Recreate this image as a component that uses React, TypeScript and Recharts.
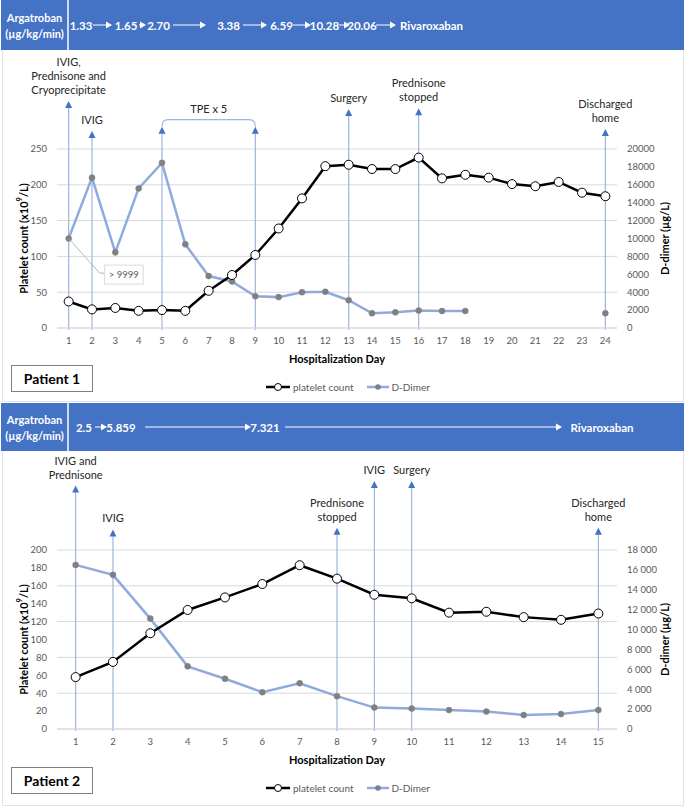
import { ComposedChart, Line, XAxis, YAxis, CartesianGrid, ReferenceLine, ReferenceDot } from 'recharts';

const FONT = 'Lato, "Open Sans", sans-serif';
const BLUE = '#4472C4';
const LIGHT_BLUE = '#8FAADC';
const ARROW_LINE = '#9DB5E0';
const TICK_GREY = '#595959';

// ---- Patient 1 ----
const days1 = [1, 2, 3, 4, 5, 6, 7, 8, 9, 10, 11, 12, 13, 14, 15, 16, 17, 18, 19, 20, 21, 22, 23, 24];
const platelet1 = [37, 26, 28, 24, 25, 24, 52, 74, 102, 139, 181, 226, 228, 222, 222, 238, 209, 214, 210, 201, 198, 204, 189, 184];
const dDimer1 = [10000, 16800, 8450, 15600, 18450, 9350, 5800, 5200, 3550, 3450, 4000, 4050, 3100, 1650, 1750, 1950, 1900, 1900, null, null, null, null, null, 1650];
const plateletTicks1 = [0, 50, 100, 150, 200, 250];
const dDimerTicks1 = [0, 2000, 4000, 6000, 8000, 10000, 12000, 14000, 16000, 18000, 20000];
const doses1 = ['1.33', '1.65', '2.70', '3.38', '6.59', '10.28', '20.06', 'Rivaroxaban'];

// ---- Patient 2 ----
const days2 = [1, 2, 3, 4, 5, 6, 7, 8, 9, 10, 11, 12, 13, 14, 15];
const platelet2 = [58, 75, 107, 133, 147, 162, 183, 168, 150, 146, 130, 131, 125, 122, 129];
const dDimer2 = [16500, 15500, 11100, 6300, 5050, 3700, 4600, 3300, 2150, 2050, 1900, 1750, 1400, 1500, 1900];
const plateletTicks2 = [0, 20, 40, 60, 80, 100, 120, 140, 160, 180, 200];
const dDimerTicks2 = [0, 2000, 4000, 6000, 8000, 10000, 12000, 14000, 16000, 18000];
const doses2 = ['2.5', '5.859', '7.321', 'Rivaroxaban'];

// clinical events (day, label lines); arrow tip height in platelet units
const events1 = [
  { day: 1, top: 317, lines: ['IVIG,', 'Prednisone and', 'Cryoprecipitate'] },
  { day: 2, top: 275, lines: ['IVIG'] },
  { day: 5, top: 281, lines: [] as string[] },
  { day: 9, top: 281, lines: [] as string[] },
  { day: 13, top: 306, lines: ['Surgery'] },
  { day: 16, top: 307, lines: ['Prednisone', 'stopped'] },
  { day: 24, top: 278, lines: ['Discharged', 'home'] },
];
const tpe1 = { from: 5, to: 9, level: 291, text: 'TPE x 5' };

const events2 = [
  { day: 1, top: 272, lines: ['IVIG and', 'Prednisone'] },
  { day: 2, top: 223, lines: ['IVIG'] },
  { day: 8, top: 225, lines: ['Prednisone', 'stopped'] },
  { day: 9, top: 277, lines: ['IVIG'] },
  { day: 10, top: 277, lines: ['Surgery'] },
  { day: 15, top: 225, lines: ['Discharged', 'home'] },
];

const data1 = days1.map((d, i) => ({ day: d, platelet: platelet1[i], dDimer: dDimer1[i] }));
const data2 = days2.map((d, i) => ({ day: d, platelet: platelet2[i], dDimer: dDimer2[i] }));

const spaceThousands = (v: number) => String(v).replace(/\B(?=(\d{3})+(?!\d))/g, ' ');

const makeArrow = (lines: string[]) => (p: any) => {
  const x = p.x1;
  const top = Math.min(p.y1, p.y2);
  const bottom = Math.max(p.y1, p.y2);
  return (
    <g>
      <line x1={x} y1={top + 5} x2={x} y2={bottom + 2} stroke={ARROW_LINE} strokeWidth={1.2} />
      <polygon points={`${x - 3.5},${top + 7} ${x + 3.5},${top + 7} ${x},${top}`} fill={BLUE} />
      {lines.map((t, i) => (
        <text
          key={i}
          x={x}
          y={top - 11.5 - (lines.length - 1 - i) * 14}
          textAnchor="middle"
          dominantBaseline="central"
          fontSize={11}
          fontFamily={FONT}
          fill="#262626"
        >
          {t}
        </text>
      ))}
    </g>
  );
};

const bracketShape = (text: string) => (p: any) => {
  const { x1, x2, y1 } = p;
  const d = `M${x1},${y1 + 7} Q${x1},${y1} ${x1 + 6},${y1} L${x2 - 6},${y1} Q${x2},${y1} ${x2},${y1 + 7}`;
  return (
    <g>
      <path d={d} fill="none" stroke={ARROW_LINE} strokeWidth={1.2} />
      <text x={(x1 + x2) / 2} y={y1 - 11.5} textAnchor="middle" dominantBaseline="central" fontSize={11} fontFamily={FONT} fill="#262626">
        {text}
      </text>
    </g>
  );
};

const Callout = (p: any) => {
  const { cx, cy } = p;
  return (
    <g>
      <polyline points={`${cx},${cy} ${cx + 31},${cy + 34.6} ${cx + 36},${cy + 34.6}`} fill="none" stroke="#a6a6a6" strokeWidth={0.8} />
      <rect x={cx + 36} y={cy + 26.6} width={38.5} height={19} fill="#fff" stroke="#d9d9d9" />
      <text x={cx + 55.2} y={cy + 36.1} textAnchor="middle" dominantBaseline="central" fontSize={9.5} fontFamily={FONT} fill={TICK_GREY}>
        {'> 9999'}
      </text>
    </g>
  );
};

const VerticalTitle = (p: any) => {
  const vb = p.viewBox;
  const cx = vb.x + p.shift;
  const cy = vb.y + vb.height / 2;
  return (
    <text
      x={cx}
      y={cy}
      transform={`rotate(-90 ${cx} ${cy})`}
      textAnchor="middle"
      dominantBaseline="central"
      fontSize={11}
      fontWeight="bold"
      fontFamily={FONT}
      fill="#000"
    >
      {p.title}
      {p.sup && (
        <tspan fontSize={7.5} dy={-4}>
          {p.sup}
        </tspan>
      )}
      {p.tail && <tspan dy={p.sup ? 4 : 0}>{p.tail}</tspan>}
    </text>
  );
};

const XTitle = (p: any) => {
  const vb = p.viewBox;
  return (
    <text
      x={vb.x + vb.width / 2}
      y={vb.y + 30}
      textAnchor="middle"
      dominantBaseline="central"
      fontSize={11}
      fontWeight="bold"
      fontFamily={FONT}
      fill="#000"
    >
      Hospitalization Day
    </text>
  );
};

const tickStyle = { fill: TICK_GREY, fontSize: 9.5, fontFamily: FONT };

function PatientChart({ data, days, pTicks, dTicks, dFormat, events, bracket, callout }: any) {
  const pMax = pTicks[pTicks.length - 1];
  const dMax = dTicks[dTicks.length - 1];
  const half = 559 / days.length / 2;
  return (
    <ComposedChart width={685} height={318} data={data} margin={{ top: 99, right: 0, bottom: 0, left: 0 }}>
      <CartesianGrid vertical={false} stroke="#d9d9d9" yAxisId="left" />
      <XAxis
        dataKey="day"
        interval={0}
        tickLine={false}
        axisLine={{ stroke: '#d9d9d9' }}
        padding={{ left: half, right: half }}
        height={40}
        tickMargin={3}
        tick={tickStyle}
        label={<XTitle />}
      />
      <YAxis
        yAxisId="left"
        width={57}
        domain={[0, pMax]}
        ticks={pTicks}
        axisLine={false}
        tickLine={false}
        tickMargin={4}
        tick={tickStyle}
        label={<VerticalTitle title="Platelet count (x10" sup="9" tail="/L)" shift={23} />}
      />
      <YAxis
        yAxisId="right"
        orientation="right"
        width={68}
        domain={[0, dMax]}
        ticks={dTicks}
        tickFormatter={dFormat}
        axisLine={false}
        tickLine={false}
        tickMargin={4}
        tick={tickStyle}
        label={<VerticalTitle title="D-dimer (µg/L)" shift={47} />}
      />
      {events.map((e: any) => (
        <ReferenceLine
          key={e.day}
          yAxisId="left"
          segment={[{ x: e.day, y: 0 }, { x: e.day, y: e.top }]}
          ifOverflow="visible"
          shape={makeArrow(e.lines)}
        />
      ))}
      {bracket && (
        <ReferenceLine
          yAxisId="left"
          segment={[{ x: bracket.from, y: bracket.level }, { x: bracket.to, y: bracket.level }]}
          ifOverflow="visible"
          shape={bracketShape(bracket.text)}
        />
      )}
      <Line
        yAxisId="right"
        dataKey="dDimer"
        stroke={LIGHT_BLUE}
        strokeWidth={2.5}
        dot={{ r: 3, fill: '#808080', stroke: '#808080', strokeWidth: 0.5 }}
        isAnimationActive={false}
      />
      <Line
        yAxisId="left"
        dataKey="platelet"
        stroke="#000"
        strokeWidth={2.5}
        dot={{ r: 4.5, fill: '#fff', stroke: '#000', strokeWidth: 1 }}
        isAnimationActive={false}
      />
      {callout && (
        <ReferenceDot yAxisId="right" x={callout.day} y={callout.value} r={0} ifOverflow="visible" shape={Callout} />
      )}
    </ComposedChart>
  );
}

function Legend({ top }: { top: number }) {
  return (
    <div style={{ position: 'absolute', top: top - 8, left: 265, height: 16, display: 'flex', alignItems: 'center', fontFamily: FONT, fontSize: 10, color: TICK_GREY }}>
      <svg width={26} height={16}>
        <line x1={1} y1={8} x2={25} y2={8} stroke="#000" strokeWidth={2.5} />
        <circle cx={13} cy={8} r={3.5} fill="#fff" stroke="#000" strokeWidth={1} />
      </svg>
      <span style={{ marginLeft: 2 }}>platelet count</span>
      <svg width={24} height={16} style={{ marginLeft: 12 }}>
        <line x1={1} y1={8} x2={23} y2={8} stroke={LIGHT_BLUE} strokeWidth={2.5} />
        <circle cx={12} cy={8} r={2.8} fill="#808080" />
      </svg>
      <span style={{ marginLeft: 2 }}>D-Dimer</span>
    </div>
  );
}

function DoseBand({ top, height, divider, labels, centers, arrows }: any) {
  const mid = height / 2;
  return (
    <div style={{ position: 'absolute', top, left: 1, width: 683, height, background: BLUE }}>
      <svg width={683} height={height} style={{ position: 'absolute', left: 0, top: 0 }}>
        <line x1={divider} y1={0} x2={divider} y2={height} stroke="#fff" strokeWidth={1.5} />
        <text x={divider / 2} y={mid - 8} textAnchor="middle" dominantBaseline="central" fontSize={11} fontWeight="bold" fontFamily={FONT} fill="#fff">
          Argatroban
        </text>
        <text x={divider / 2} y={mid + 8} textAnchor="middle" dominantBaseline="central" fontSize={11} fontWeight="bold" fontFamily={FONT} fill="#fff">
          (µg/kg/min)
        </text>
        {arrows.map((a: number[], i: number) => (
          <g key={i}>
            <line x1={a[0]} y1={mid} x2={a[1] - 4} y2={mid} stroke="#fff" strokeWidth={1} />
            <polygon points={`${a[1] - 6},${mid - 3.5} ${a[1] - 6},${mid + 3.5} ${a[1]},${mid}`} fill="#fff" />
          </g>
        ))}
        {labels.map((l: string, i: number) => (
          <text key={l} x={centers[i]} y={mid} textAnchor="middle" dominantBaseline="central" fontSize={11.5} fontWeight="bold" fontFamily={FONT} fill="#fff">
            {l}
          </text>
        ))}
      </svg>
    </div>
  );
}

function PatientTag({ top, text }: { top: number; text: string }) {
  return (
    <div
      style={{
        position: 'absolute',
        top,
        left: 11,
        width: 80,
        height: 25,
        border: '1px solid #7f7f7f',
        background: '#fff',
        display: 'flex',
        alignItems: 'center',
        justifyContent: 'center',
        fontFamily: FONT,
        fontWeight: 'bold',
        fontSize: 14,
        color: '#000',
      }}
    >
      {text}
    </div>
  );
}

export default function App() {
  return (
    <div style={{ position: 'absolute', left: 0, top: 0, width: 685, height: 806, background: '#fff', overflow: 'hidden', fontFamily: FONT }}>
      <div style={{ position: 'absolute', top: 48, left: 2, width: 680, height: 352, border: '1px solid #e3e3e3' }} />
      <div style={{ position: 'absolute', top: 449, left: 2, width: 680, height: 355, border: '1px solid #e3e3e3' }} />

      <DoseBand
        top={0}
        height={50}
        divider={67}
        labels={doses1}
        centers={[80, 125, 157.5, 227.5, 280.5, 323.5, 361, 430.5]}
        arrows={[[92, 111], [138, 145], [172, 205], [242, 266], [292, 310], [338, 349], [375, 395]]}
      />
      <div style={{ position: 'absolute', top: 50, left: 0 }}>
        <PatientChart
          data={data1}
          days={days1}
          pTicks={plateletTicks1}
          dTicks={dDimerTicks1}
          dFormat={(v: number) => String(v)}
          events={events1}
          bracket={tpe1}
          callout={{ day: days1[0], value: dDimer1[0] }}
        />
      </div>
      <PatientTag top={365} text="Patient 1" />
      <Legend top={387} />

      <DoseBand
        top={403}
        height={48}
        divider={67}
        labels={doses2}
        centers={[83, 120, 264, 601]}
        arrows={[[94, 106], [144, 250], [284, 561]]}
      />
      <div style={{ position: 'absolute', top: 451, left: 0 }}>
        <PatientChart
          data={data2}
          days={days2}
          pTicks={plateletTicks2}
          dTicks={dDimerTicks2}
          dFormat={spaceThousands}
          events={events2}
        />
      </div>
      <PatientTag top={767} text="Patient 2" />
      <Legend top={788} />
    </div>
  );
}
